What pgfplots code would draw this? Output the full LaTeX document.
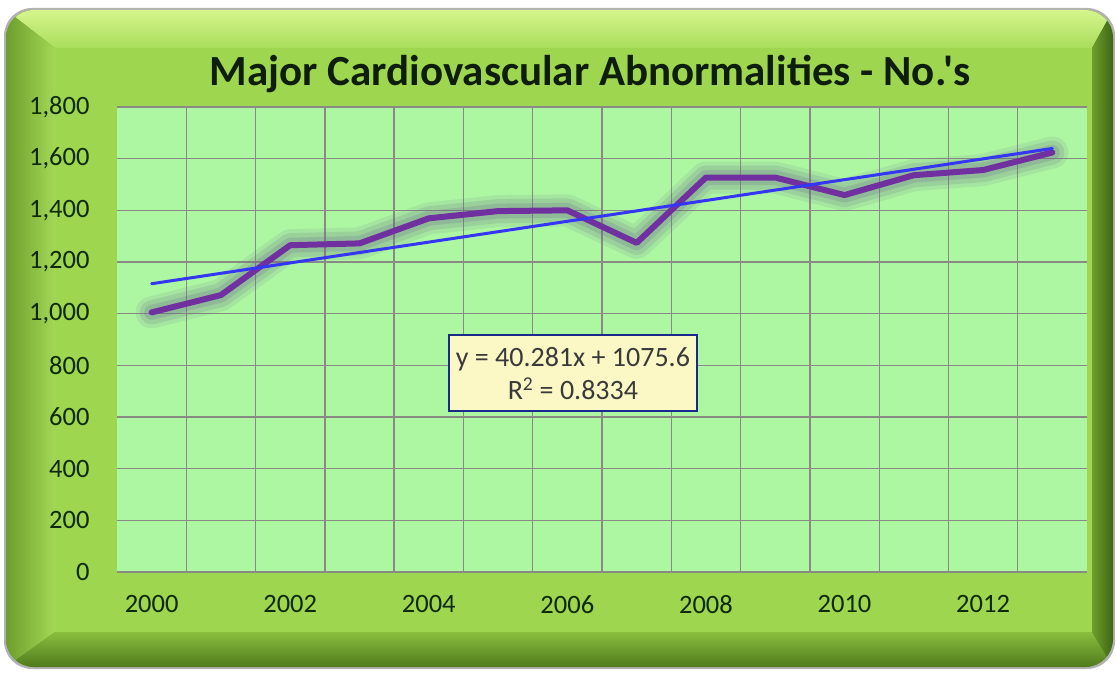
\documentclass[border=0pt]{standalone}
\usepackage{pgfplots}
\pgfplotsset{compat=1.18}
\usepackage{fontspec}
\setmainfont{Carlito}
\newfontfamily\titlefont{Carlito}[Ligatures=TeXOff]
\definecolor{framedark}{HTML}{5E8C22}
\definecolor{facegreen}{HTML}{9ED64F}
\definecolor{plotbg}{HTML}{ADF7A2}
\definecolor{gridc}{HTML}{8A8A84}
\definecolor{serpurple}{HTML}{7030A0}
\definecolor{trendblue}{HTML}{3535F5}
\definecolor{labelc}{HTML}{0F2A0A}
\definecolor{titlec}{HTML}{0E1E0A}
\definecolor{boxfill}{HTML}{FBF8C6}
\definecolor{boxdraw}{HTML}{1A2A8C}
\definecolor{boxtext}{HTML}{3A3A3A}
\definecolor{glowc}{HTML}{6A6A8A}
\definecolor{bevtop}{HTML}{D6F58C}
\definecolor{bevtopb}{HTML}{A9DD5C}
\definecolor{bevleftA}{HTML}{6E9E2C}
\definecolor{bevleftB}{HTML}{A2D856}
\definecolor{bevbotA}{HTML}{8ABF3E}
\definecolor{bevbotB}{HTML}{4F7A1C}
\definecolor{bevrightA}{HTML}{6E9E2C}
\definecolor{bevrightB}{HTML}{3E6614}
\pgfplotstableread{
year value
2000 1005
2001 1072
2002 1265
2003 1272
2004 1369
2005 1397
2006 1400
2007 1274
2008 1527
2009 1527
2010 1459
2011 1536
2012 1556
2013 1624
}\datatab
\begin{document}
\begin{tikzpicture}[x=1pt,y=1pt]
\useasboundingbox (0,0) rectangle (1116,672);
\fill[white] (0,0) rectangle (1116,672);
\fill[gray!60, rounded corners=28pt] (4,3) rectangle (1115,664);
\begin{scope}
\clip[rounded corners=28pt] (6,5) rectangle (1113,662);
\fill[framedark] (6,5) rectangle (1113,662);
\shade[top color=bevtop, bottom color=bevtopb] (6,662) -- (1113,662) -- (1092,624) -- (55,624) -- cycle;
\shade[left color=bevleftA, right color=bevleftB] (6,662) -- (55,624) -- (55,40) -- (6,5) -- cycle;
\shade[top color=bevbotA, bottom color=bevbotB] (6,5) -- (55,40) -- (1092,40) -- (1113,5) -- cycle;
\shade[left color=bevrightA, right color=bevrightB] (1113,662) -- (1092,624) -- (1092,40) -- (1113,5) -- cycle;
\fill[facegreen] (55,40) rectangle (1092,624);
\end{scope}
\node[font=\titlefont\bfseries\fontsize{43}{47}\selectfont, text=titlec] at (590,598) {Major Cardiovascular Abnormalities - No.'s};
\begin{axis}[
  at={(117pt,100pt)}, anchor=south west,
  scale only axis, width=970pt, height=465pt,
  xmin=1999.5, xmax=2013.5, ymin=0, ymax=1800,
  xtick={2000,2002,2004,2006,2008,2010,2012},
  xticklabels={2000,2002,2004,2006,2008,2010,2012},
  minor xtick={2000.5,2001.5,2002.5,2003.5,2004.5,2005.5,2006.5,2007.5,2008.5,2009.5,2010.5,2011.5,2012.5},
  ytick={0,200,400,600,800,1000,1200,1400,1600,1800},
  xminorgrids=true, ymajorgrids=true, xmajorgrids=false,
  grid style={draw=gridc, line width=1.3pt},
  minor grid style={draw=gridc, line width=1.3pt},
  axis line style={draw=none},
  major tick length=0pt, minor tick length=0pt,
  axis background/.style={fill=plotbg},
  /pgf/number format/assume math mode=true,
  /pgf/number format/1000 sep={,},
  ticklabel style={font=\fontsize{26.5}{29}\selectfont, text=labelc},
  yticklabel style={xshift=-24pt},
  xticklabel style={yshift=-20pt},
  clip=false,
]
\addplot[glowc, opacity=0.12, line width=32pt, line join=round, line cap=round] table[x=year,y=value] {\datatab};
\addplot[glowc, opacity=0.16, line width=24pt, line join=round, line cap=round] table[x=year,y=value] {\datatab};
\addplot[glowc, opacity=0.22, line width=15pt, line join=round, line cap=round] table[x=year,y=value] {\datatab};
\addplot[serpurple, line width=6pt, line join=round, line cap=round] table[x=year,y=value] {\datatab};
\addplot[trendblue, line width=3pt, line cap=round] coordinates {(2000,1115.9) (2013,1639.5)};
\node[draw=boxdraw, fill=boxfill, line width=1.5pt, align=center, text=boxtext,
  font=\fontsize{28}{33}\selectfont, minimum width=248pt, minimum height=76pt, inner sep=2pt]
  at (axis cs:2006.08,770) {y = 40.281x + 1075.6\\R\textsuperscript{2} = 0.8334};
\end{axis}
\end{tikzpicture}
\end{document}
